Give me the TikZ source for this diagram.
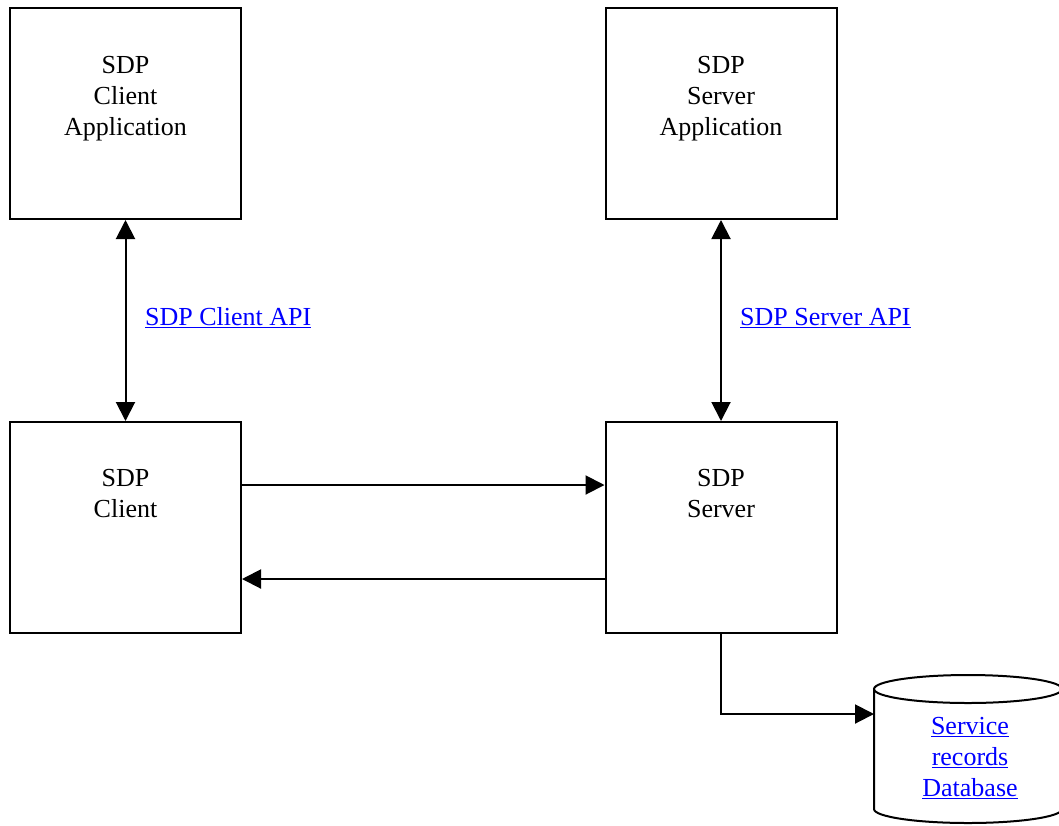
\documentclass[tikz,border=0pt]{standalone}
\usepackage{fontspec}
\setmainfont{Liberation Serif}
\usetikzlibrary{positioning,arrows.meta}
\tikzset{
    box/.style={draw, line width=2pt, minimum width=231pt, minimum height=211pt, inner sep=0pt},
    boxtext/.style={align=center, inner sep=0pt, font=\fontsize{26}{31}\selectfont},
    apilink/.style={align=center, inner sep=0pt, text=blue, font=\fontsize{26}{31}\selectfont},
    conn/.style={line width=2pt, -{Triangle[length=19pt,width=19pt]}},
    dconn/.style={line width=2pt, {Triangle[length=19pt,width=19pt]}-{Triangle[length=19pt,width=19pt]}}
}

\begin{document}
\begin{tikzpicture}[x=1pt,y=1pt]
                        \useasboundingbox (0,0) rectangle (1059,-825);
                        \clip (0,0) rectangle (1059,-825);

                        \node[box] (cliapp) at (125.5,-113.5) {};
                        \node[box] (srvapp) at (721,-113.5) {};
                        \node[box] (cli) at (125.5,-527.5) {};
                        \node[box] (srv) at (721,-527.5) {};

                        \node[boxtext, anchor=north, below=49pt of cliapp.north] (cliapptxt) {SDP\\Client\\Application};
                        \node[boxtext, anchor=north, below=49pt of srvapp.north] (srvapptxt) {SDP\\Server\\Application};
                        \node[boxtext, anchor=north, below=48pt of cli.north] (clitxt) {SDP\\Client};
                        \node[boxtext, anchor=north, below=48pt of srv.north] (srvtxt) {SDP\\Server};

                        \draw[dconn] (cliapp.south) -- (cli.north);
                        \node[apilink, anchor=west] (cliapi) at (145,-318) {\underline{SDP Client API}};

                        \draw[dconn] (srvapp.south) -- (srv.north);
                        \node[apilink, anchor=west] (srvapi) at (740,-318) {\underline{SDP Server API}};

                        \draw[conn] ([yshift=42.5pt]cli.east) -- ([yshift=42.5pt]srv.west);
                        \draw[conn] ([yshift=-51.5pt]srv.west) -- ([yshift=-51.5pt]cli.east);

                        \draw[line width=2pt] (874,-689) -- (874,-809)
                            arc[start angle=180, end angle=360, x radius=94pt, y radius=14pt] -- (1062,-689);
                        \draw[line width=2pt] (968,-689) ellipse[x radius=94pt, y radius=14pt];
                        \coordinate (dbin) at (874,-714);
                        \node[apilink] (db) at (970,-758) {\underline{Service}\\\underline{records}\\\underline{Database}};

                        \draw[conn] (srv.south) |- (dbin);
                    \end{tikzpicture}
\end{document}
